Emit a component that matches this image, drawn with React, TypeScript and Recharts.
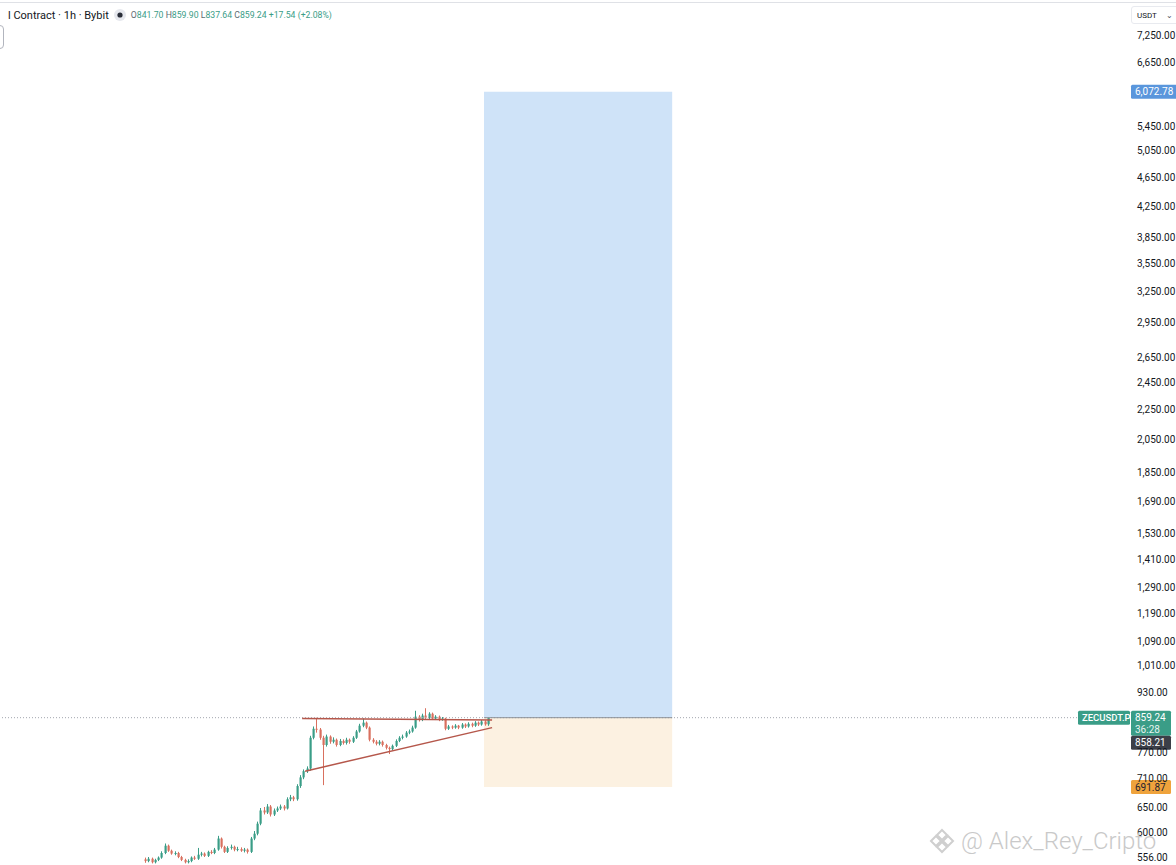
import React from "react";
import {
  ComposedChart,
  Bar,
  XAxis,
  YAxis,
  ReferenceArea,
  ReferenceLine,
} from "recharts";

// hourly candles, ZECUSDT.P
const opens = [
  552, 549, 553, 547, 551, 555, 563, 576, 567, 562, 563, 556, 551, 547, 549, 555, 553, 560, 562, 558,
  565, 563, 569, 589, 574, 565, 572, 574, 569, 570, 567, 569, 565, 589, 598, 617, 643, 639, 651, 635,
  643, 647, 651, 647, 666, 670, 666, 694, 713, 727, 733, 807, 830, 828, 807, 789, 810, 797, 802, 789,
  799, 794, 802, 797, 807, 823, 838, 846, 833, 802, 797, 792, 797, 789, 782, 779, 787, 799, 807, 810,
  820, 823, 833, 862, 854, 865, 859, 870, 857, 862, 854, 857, 830, 836, 833, 838, 833, 841, 836, 843,
  838, 846, 841, 849, 841.7,
];
const highs = [
  555, 556, 555, 553, 557, 566, 580, 578, 569, 566, 565, 558, 553, 552, 557, 558, 572, 565, 564, 567,
  568, 572, 594, 591, 576, 575, 578, 576, 574, 573, 572, 571, 592, 603, 621, 648, 650, 656, 654, 647,
  651, 655, 654, 670, 675, 673, 698, 718, 731, 738, 812, 836, 859, 832, 812, 815, 813, 808, 805, 804,
  803, 807, 805, 811, 827, 843, 857, 849, 836, 806, 801, 801, 800, 792, 785, 790, 803, 811, 815, 824,
  828, 838, 878, 866, 870, 885, 874, 873, 866, 865, 861, 859, 840, 839, 842, 840, 845, 844, 847, 846,
  850, 849, 853, 852, 859.9,
];
const lows = [
  546, 547, 545, 545, 549, 553, 561, 565, 560, 559, 554, 549, 545, 545, 547, 551, 551, 557, 556, 556,
  561, 561, 567, 571, 563, 563, 569, 566, 566, 565, 564, 562, 563, 586, 595, 614, 635, 636, 631, 632,
  640, 644, 643, 645, 662, 662, 663, 690, 709, 723, 728, 803, 820, 802, 696, 785, 792, 793, 785, 786,
  790, 790, 792, 794, 804, 820, 834, 829, 798, 793, 788, 788, 785, 778, 767, 776, 784, 796, 803, 807,
  816, 820, 830, 849, 850, 855, 855, 853, 853, 850, 851, 826, 827, 829, 830, 829, 830, 832, 833, 834,
  835, 837, 838, 838, 837.64,
];
const closes = [
  549, 553, 547, 551, 555, 563, 576, 567, 562, 563, 556, 551, 547, 549, 555, 553, 560, 562, 558, 565,
  563, 569, 589, 574, 565, 572, 574, 569, 570, 567, 569, 565, 589, 598, 617, 643, 639, 651, 635, 643,
  647, 651, 647, 666, 670, 666, 694, 713, 727, 733, 807, 830, 828, 807, 789, 810, 797, 802, 789, 799,
  794, 802, 797, 807, 823, 838, 846, 833, 802, 797, 792, 797, 789, 782, 779, 787, 799, 807, 810, 820,
  823, 833, 862, 854, 865, 859, 870, 857, 862, 854, 857, 830, 836, 833, 838, 833, 841, 836, 843, 838,
  846, 841, 849, 841.7, 859.24,
];

const priceTicks = [
  7250, 6650, 5450, 5050, 4650, 4250, 3850, 3550, 3250, 2950, 2650, 2450, 2250, 2050, 1850, 1690,
  1530, 1410, 1290, 1190, 1090, 1010, 930, 770, 710, 650, 600, 556,
];

const lastPrice = 859.24;
const bidPrice = 858.21;
const targetPrice = 6072.78;
const stopPrice = 691.87;
const countdown = "36:28";
const symbol = "ZECUSDT.P";

// long position tool and triangle, in bar-index units
const positionStart = 102.75;
const positionEnd = 159.8;
const triangleTop = [
  { x: 47.6, y: 857 },
  { x: 105.2, y: 853 },
];
const triangleBottom = [
  { x: 48.5, y: 727 },
  { x: 105.2, y: 833 },
];

const UP = "#3a9d87";
const DOWN = "#d9705f";
const TAG_GREEN = "#3a9d87";
const FONT = "Roboto, 'Open Sans', sans-serif";

const data = opens.map((o, i) => ({
  i,
  open: o,
  high: highs[i],
  low: lows[i],
  close: closes[i],
}));

const fmt = new Intl.NumberFormat("en-US", {
  minimumFractionDigits: 2,
  maximumFractionDigits: 2,
});

function Candle(props: any) {
  const { x, y, width, height, payload } = props;
  if (x == null || y == null || !payload) return null;
  const { open, close, high, low } = payload;
  const top = Math.min(y, y + height);
  const h = Math.abs(height);
  const lh = Math.log(high);
  const ll = Math.log(low);
  const toY = (v: number) => (lh === ll ? top : top + ((lh - Math.log(v)) / (lh - ll)) * h);
  const cx = Math.round(x + width / 2) + 0.5;
  const color = close >= open ? UP : DOWN;
  const yo = toY(open);
  const yc = toY(close);
  const bt = Math.min(yo, yc);
  const bh = Math.max(1, Math.abs(yc - yo));
  return (
    <g>
      <line x1={cx} x2={cx} y1={top} y2={top + h} stroke={color} strokeWidth={1} />
      <rect x={cx - 1} y={bt} width={2.2} height={bh} fill={color} />
    </g>
  );
}

function PriceTag(props: any) {
  const { viewBox, text, fill, color, width = 40 } = props;
  if (!viewBox) return null;
  const x = viewBox.x + viewBox.width + 3;
  const y = viewBox.y;
  return (
    <g>
      <rect x={x} y={y - 7} width={width} height={14} rx={1.5} fill={fill} />
      <text x={x + 4} y={y} dominantBaseline="central" fontSize={10} fontFamily={FONT} fill={color}>
        {text}
      </text>
    </g>
  );
}

function LastPriceTag(props: any) {
  const { viewBox } = props;
  if (!viewBox) return null;
  const right = viewBox.x + viewBox.width;
  const x = right + 3;
  const y = viewBox.y;
  return (
    <g fontFamily={FONT} fontSize={10}>
      <rect x={right - 50} y={y - 7} width={52} height={14} rx={1.5} fill={TAG_GREEN} />
      <text x={right - 46} y={y} dominantBaseline="central" fill="#fff" fontSize={9.5} fontWeight={500}>
        {symbol}
      </text>
      <rect x={x} y={y - 7} width={40} height={25} rx={1.5} fill={TAG_GREEN} />
      <text x={x + 4} y={y} dominantBaseline="central" fill="#fff">
        {fmt.format(lastPrice)}
      </text>
      <text x={x + 4} y={y + 11.5} dominantBaseline="central" fill="#e6f2ef">
        {countdown}
      </text>
      <rect x={x} y={y + 18} width={40} height={14} rx={1.5} fill="#3b3f48" />
      <text x={x + 4} y={y + 25} dominantBaseline="central" fill="#fff">
        {fmt.format(bidPrice)}
      </text>
    </g>
  );
}

function Watermark() {
  return (
    <div
      style={{
        position: "absolute",
        left: 928,
        top: 827,
        display: "flex",
        alignItems: "center",
        gap: 5,
        color: "#c9c9c9",
        fontFamily: FONT,
        fontWeight: 300,
        fontSize: 24,
        pointerEvents: "none",
        whiteSpace: "nowrap",
      }}
    >
      <svg width={28} height={28} viewBox="0 0 28 28">
        <g fill="none" stroke="#cfcfcf" strokeWidth={2}>
          <path d="M14 3 L19 8 L14 13 L9 8 Z" />
          <path d="M14 15 L19 20 L14 25 L9 20 Z" />
          <path d="M3 14 L8 9 L13 14 L8 19 Z" />
          <path d="M15 14 L20 9 L25 14 L20 19 Z" />
        </g>
      </svg>
      <span>@ Alex_Rey_Cripto</span>
    </div>
  );
}

function Header() {
  const val = { color: "#3a9d87" };
  const key = { color: "#5d6b70" };
  return (
    <div
      style={{
        position: "absolute",
        left: 8,
        top: 7,
        height: 16,
        display: "flex",
        alignItems: "center",
        fontFamily: FONT,
        whiteSpace: "nowrap",
        pointerEvents: "none",
      }}
    >
      <span style={{ fontSize: 11, color: "#131722" }}>l Contract · 1h · Bybit</span>
      <svg width={14} height={14} style={{ marginLeft: 4 }}>
        <circle cx={7} cy={7} r={6} fill="#e6e8ee" />
        <circle cx={7} cy={7} r={2.6} fill="#2a2e39" />
      </svg>
      <span style={{ fontSize: 8.7, marginLeft: 4 }}>
        <span style={key}>O</span>
        <span style={val}>841.70 </span>
        <span style={key}> H</span>
        <span style={val}>859.90 </span>
        <span style={key}> L</span>
        <span style={val}>837.64 </span>
        <span style={key}> C</span>
        <span style={val}>859.24 </span>
        <span style={val}> +17.54 (+2.08%)</span>
      </span>
    </div>
  );
}

export default function App() {
  return (
    <div
      style={{
        position: "absolute",
        left: 0,
        top: 0,
        width: 1176,
        height: 865,
        overflow: "hidden",
        background: "#ffffff",
      }}
    >
      <ComposedChart
        width={1176}
        height={865}
        data={data}
        margin={{ top: 0, right: 0, bottom: 0, left: 0 }}
      >
        <XAxis type="number" dataKey="i" domain={[-44, 298]} allowDataOverflow hide />
        <YAxis
          orientation="right"
          type="number"
          scale="log"
          domain={[542.3, 8088]}
          allowDataOverflow
          ticks={priceTicks}
          interval={0}
          width={48}
          tickSize={0}
          tickMargin={9}
          axisLine={false}
          tickLine={false}
          tick={{ fontSize: 10, fill: "#131722", fontFamily: FONT }}
          tickFormatter={(v: number) => fmt.format(v)}
        />
        <ReferenceArea
          x1={positionStart}
          x2={positionEnd}
          y1={lastPrice}
          y2={targetPrice}
          fill="#cfe3f8"
          fillOpacity={1}
          stroke="none"
        />
        <ReferenceArea
          x1={positionStart}
          x2={positionEnd}
          y1={stopPrice}
          y2={lastPrice}
          fill="#fcf1e1"
          fillOpacity={1}
          stroke="none"
        />
        <ReferenceLine
          y={lastPrice}
          stroke="#a3a6af"
          strokeDasharray="1 2"
          strokeWidth={1}
          label={<LastPriceTag />}
        />
        <ReferenceLine
          segment={[
            { x: positionStart, y: lastPrice },
            { x: positionEnd, y: lastPrice },
          ]}
          stroke="#8d9199"
          strokeWidth={1}
        />
        <ReferenceLine
          y={targetPrice}
          stroke="none"
          strokeOpacity={0}
          label={<PriceTag text={fmt.format(targetPrice)} fill="#5a96dc" color="#fff" width={50} />}
        />
        <ReferenceLine
          y={stopPrice}
          stroke="none"
          strokeOpacity={0}
          label={<PriceTag text={fmt.format(stopPrice)} fill="#efa33c" color="#1e2230" />}
        />
        <Bar
          dataKey={(d: any) => [d.low, d.high]}
          barSize={3}
          shape={<Candle />}
          isAnimationActive={false}
        />
        <ReferenceLine segment={triangleTop} stroke="#b5574b" strokeWidth={1.5} />
        <ReferenceLine segment={triangleBottom} stroke="#b5574b" strokeWidth={1.5} />
      </ComposedChart>

      <div style={{ position: "absolute", left: 0, top: 2, width: 1176, height: 1, background: "#dfe1e6" }} />
      <div
        style={{
          position: "absolute",
          left: -8,
          top: 25,
          width: 10,
          height: 22,
          border: "1px solid #b2b5be",
          borderRadius: 4,
        }}
      />
      <div
        style={{
          position: "absolute",
          left: 1131,
          top: 6,
          width: 50,
          height: 18,
          border: "1px solid #e8eaef",
          borderRadius: 3,
          fontFamily: FONT,
          fontSize: 8,
          color: "#131722",
          display: "flex",
          alignItems: "center",
          paddingLeft: 5,
          boxSizing: "border-box",
        }}
      >
        USDT
        <span style={{ marginLeft: 9, fontSize: 8, color: "#50535e" }}>⌄</span>
      </div>
      <Header />
      <Watermark />
    </div>
  );
}
